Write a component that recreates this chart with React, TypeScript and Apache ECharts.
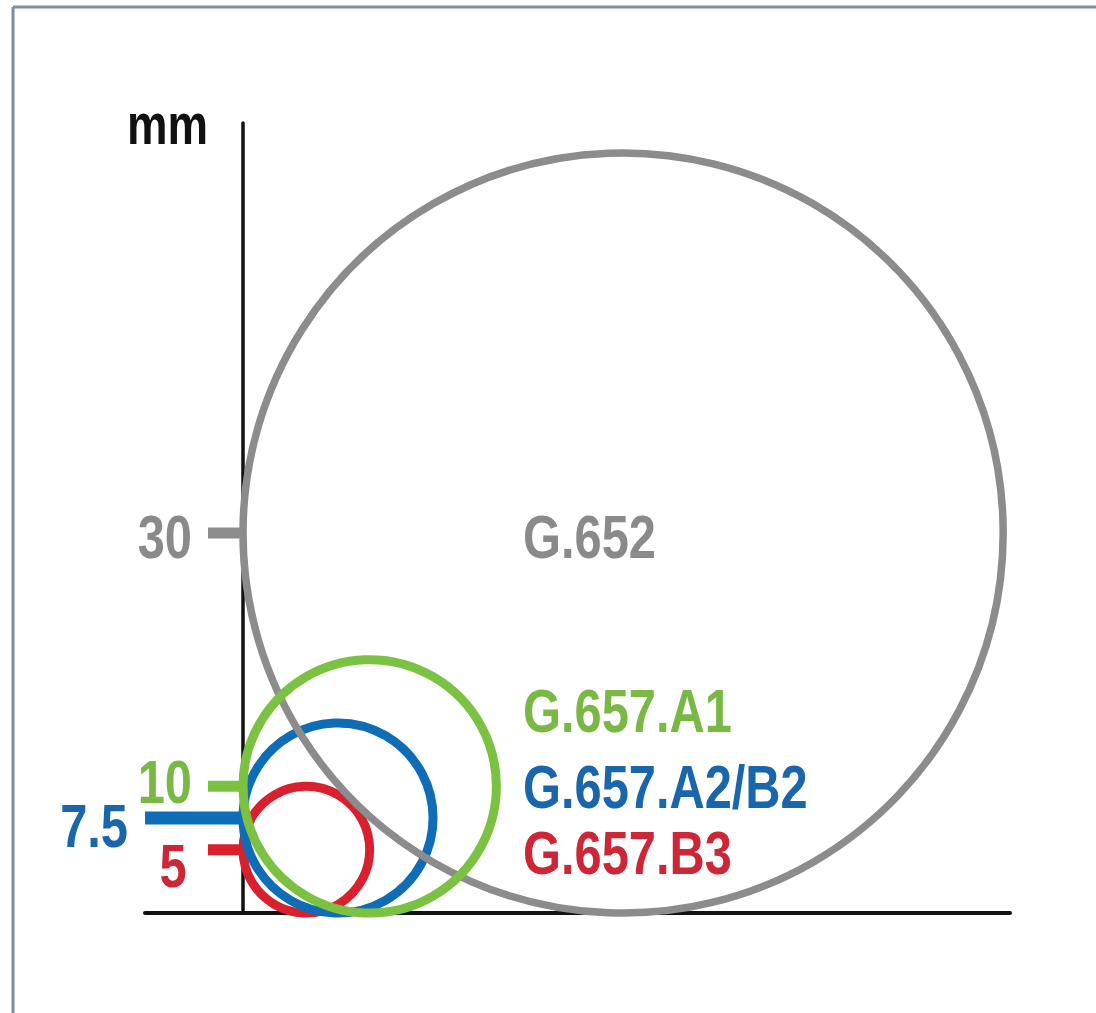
import React, { useEffect, useRef } from "react";
import * as echarts from "echarts";

// ---- data ----
const fiberTypes = ["G.652", "G.657.A1", "G.657.A2/B2", "G.657.B3"];
const bendRadiiMm = [30, 10, 7.5, 5];
const tickLabels = ["30", "10", "7.5", "5"];
const axisUnit = "mm";

// ---- styles ----
const circleColors = ["#8c8c8c", "#7cc242", "#0e6db6", "#d9202e"];
const labelColors = ["#8a8a8a", "#7ab844", "#1a66ad", "#cc2637"];
const circleWidths = [7.5, 9, 9, 9];
const drawOrder = [3, 2, 0, 1];
const tickLenPx = [35, 35, 98, 35];
const tickThickPx = [11, 11, 13, 11];
const tickLabelDx = [-51, -51, -115, -70];
const tickLabelDy = [4, -4, 8, 16];
const tickLabelAlign = ["right", "right", "right", "center"];
const seriesLabelY = [537, 711, 787, 853];
const FONT = '"Liberation Sans", Arial, sans-serif';
const SX = 0.8;

export default function App() {
  const ref = useRef<HTMLDivElement>(null);
  useEffect(() => {
    if (!ref.current) return;
    const chart = echarts.init(ref.current, undefined, { renderer: "svg" });
    const circleData = drawOrder.map((i) => [bendRadiiMm[i], i]);
    const tickData = bendRadiiMm.map((r, i) => [r, i]);
    chart.setOption({
      animation: false,
      backgroundColor: "#ffffff",
      grid: { left: 145, right: 86, top: 123, bottom: 100 },
      xAxis: {
        type: "value",
        min: -7.735,
        max: 60.54,
        axisLine: { show: true, onZero: true, lineStyle: { color: "#111", width: 4 } },
        axisTick: { show: false },
        axisLabel: { show: false },
        splitLine: { show: false },
      },
      yAxis: {
        type: "value",
        min: 0,
        max: 62.37,
        axisLine: { show: true, onZero: true, lineStyle: { color: "#111", width: 3.5 } },
        axisTick: { show: false },
        axisLabel: { show: false },
        splitLine: { show: false },
      },
      series: [
        {
          type: "custom",
          clip: false,
          z: 3,
          data: tickData,
          renderItem: (params: any, api: any) => {
            const r = api.value(0);
            const i = api.value(1);
            const c = api.coord([0, r]);
            const len = tickLenPx[i];
            const th = tickThickPx[i];
            return {
              type: "group",
              children: [
                {
                  type: "rect",
                  shape: { x: c[0] - len, y: c[1] - th / 2, width: len, height: th },
                  style: { fill: circleColors[i] },
                },
                {
                  type: "text",
                  x: c[0] + tickLabelDx[i],
                  y: c[1] + tickLabelDy[i],
                  scaleX: SX,
                  style: {
                    text: tickLabels[i],
                    fill: labelColors[i],
                    font: `bold 61px ${FONT}`,
                    align: tickLabelAlign[i],
                    verticalAlign: "middle",
                  },
                },
              ],
            };
          },
        },
        {
          type: "custom",
          clip: false,
          z: 4,
          data: circleData,
          renderItem: (params: any, api: any) => {
            const r = api.value(0);
            const i = api.value(1);
            const c = api.coord([r, r]);
            const rp = api.size([r, r])[0];
            return {
              type: "circle",
              shape: { cx: c[0], cy: c[1], r: rp },
              style: { fill: "none", stroke: circleColors[i], lineWidth: circleWidths[i] },
            };
          },
        },
      ],
      graphic: [
        { type: "line", shape: { x1: 13, y1: 7, x2: 1096, y2: 7 }, style: { stroke: "#7f8f9b", lineWidth: 3 } },
        { type: "line", shape: { x1: 13, y1: 7, x2: 13, y2: 1013 }, style: { stroke: "#7f8f9b", lineWidth: 3 } },
        {
          type: "text",
          x: 127,
          y: 124,
          scaleX: 0.8,
          style: { text: axisUnit, fill: "#111", font: `bold 57px ${FONT}`, align: "left", verticalAlign: "middle" },
        },
        ...fiberTypes.map((name, i) => ({
          type: "text",
          x: 523,
          y: seriesLabelY[i],
          z: 10,
          scaleX: SX,
          style: { text: name, fill: labelColors[i], font: `bold 61px ${FONT}`, align: "left", verticalAlign: "middle" },
        })),
      ],
    });
    return () => chart.dispose();
  }, []);
  return (
    <div
      ref={ref}
      style={{ position: "fixed", left: 0, top: 0, width: 1096, height: 1013, background: "#fff" }}
    />
  );
}
